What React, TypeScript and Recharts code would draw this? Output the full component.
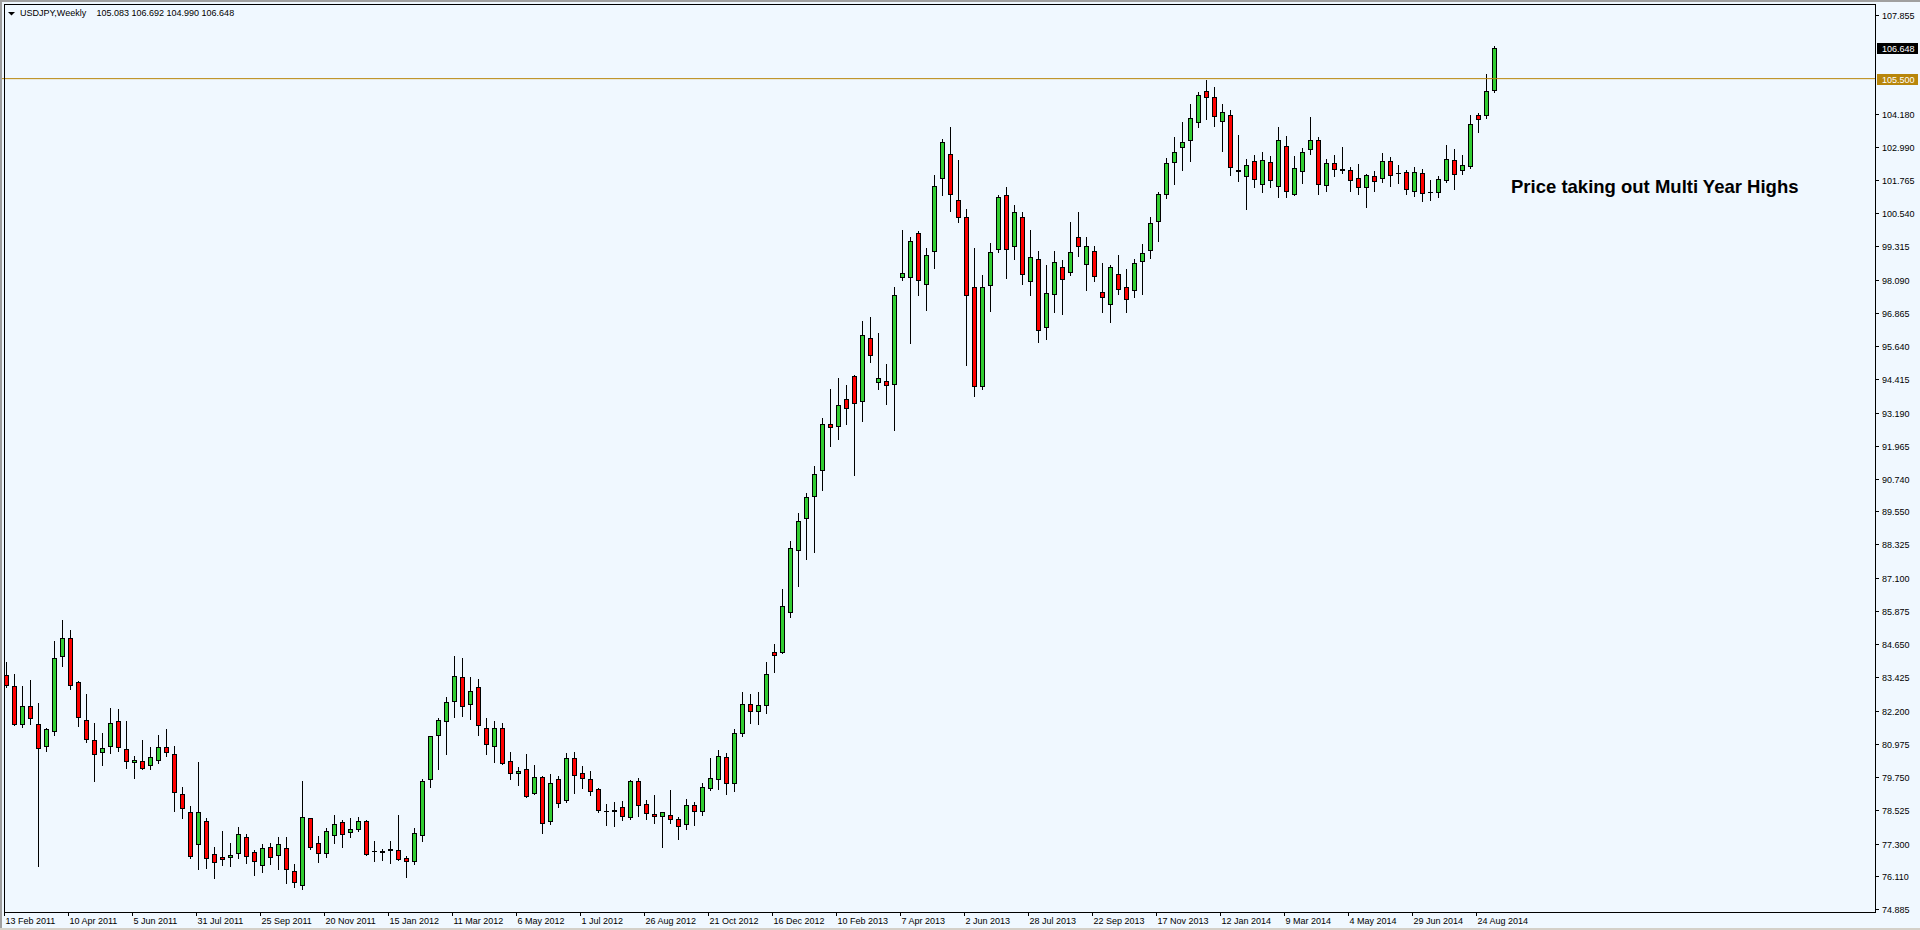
import React from 'react';
import { ComposedChart, Bar, XAxis, YAxis, ReferenceLine } from 'recharts';

// USDJPY weekly, 13 Feb 2011 .. 7 Sep 2014 (one entry per week)
const opens = [
  83.50, 83.09, 81.69, 82.36, 81.69, 80.88, 81.44, 84.20, 84.86, 83.24,
  81.84, 81.10, 80.66, 80.88, 81.80, 80.77, 80.29, 80.33, 80.18, 80.37,
  80.85, 80.59, 79.11, 78.45, 77.27, 78.12, 76.90, 76.79, 76.79, 76.94,
  77.53, 76.97, 76.50, 77.16, 76.86, 77.12, 76.27, 75.76, 78.23, 77.31,
  76.94, 77.60, 78.08, 77.71, 77.82, 78.12, 77.01, 76.97, 77.05, 77.05,
  76.75, 76.64, 77.60, 79.67, 81.29, 81.80, 82.54, 83.43, 82.43, 83.06,
  81.55, 80.88, 81.55, 80.33, 79.89, 80.03, 79.15, 79.74, 78.12, 79.66,
  78.89, 80.44, 79.89, 79.66, 79.30, 78.49, 78.49, 78.63, 78.26, 79.59,
  78.74, 78.38, 78.30, 78.34, 78.19, 78.01, 78.71, 78.49, 79.33, 79.66,
  80.48, 79.52, 81.37, 82.44, 82.20, 82.40, 84.36, 84.37, 85.82, 88.11,
  89.31, 90.10, 91.06, 92.75, 92.71, 93.68, 94.52, 93.60, 95.95, 94.31,
  94.37, 94.26, 98.18, 98.18, 99.80, 97.92, 99.13, 101.82, 102.71, 101.02,
  100.39, 97.81, 94.15, 97.88, 99.21, 101.20, 99.32, 100.39, 98.03, 98.84,
  96.33, 97.55, 98.54, 98.36, 99.65, 98.65, 99.13, 97.62, 97.18, 98.28,
  97.81, 97.69, 98.76, 99.17, 100.24, 101.23, 102.41, 102.97, 103.23, 103.92,
  105.05, 104.84, 103.93, 104.15, 102.12, 101.90, 102.45, 101.60, 102.42, 101.53,
  103.01, 101.24, 102.08, 102.89, 103.23, 101.57, 102.38, 102.16, 102.12, 101.82,
  101.49, 101.90, 101.82, 102.45, 102.01, 102.05, 101.35, 102.01, 101.31, 101.31,
  101.75, 102.49, 102.12, 102.27, 104.15, 104.15, 105.083,
];
const highs = [
  84.00, 83.55, 83.11, 83.33, 82.48, 81.55, 84.77, 85.54, 85.17, 83.29,
  82.81, 81.74, 81.37, 82.30, 82.26, 81.82, 80.53, 81.12, 80.86, 81.30,
  81.52, 80.90, 79.38, 78.68, 80.31, 78.23, 77.17, 77.76, 77.32, 77.91,
  77.64, 77.06, 77.27, 77.32, 77.53, 77.53, 76.53, 79.59, 78.25, 77.56,
  77.86, 78.34, 78.15, 78.23, 78.27, 78.15, 77.38, 77.09, 77.38, 78.34,
  76.83, 77.86, 79.67, 81.28, 81.91, 82.69, 84.20, 84.13, 83.43, 83.35,
  81.91, 81.80, 81.73, 80.67, 80.11, 80.60, 80.18, 79.78, 79.85, 79.78,
  80.62, 80.66, 80.15, 79.99, 79.33, 78.77, 78.82, 78.88, 79.63, 79.70,
  78.89, 79.08, 78.47, 79.26, 78.27, 78.93, 78.82, 79.52, 80.44, 80.73,
  80.62, 81.51, 82.90, 82.81, 82.90, 83.99, 84.65, 86.68, 88.45, 89.49,
  90.23, 91.22, 92.98, 94.06, 94.47, 94.21, 94.56, 96.57, 96.71, 96.12,
  94.97, 97.82, 99.93, 99.65, 99.88, 99.26, 101.93, 103.29, 103.72, 102.50,
  100.69, 99.26, 98.26, 99.44, 101.20, 101.49, 100.83, 100.57, 99.91, 99.13,
  98.62, 99.13, 98.80, 100.20, 100.57, 99.65, 99.32, 98.69, 98.62, 98.99,
  98.47, 98.84, 99.39, 100.39, 101.31, 102.56, 103.34, 103.89, 104.56, 105.00,
  105.44, 105.20, 104.55, 104.35, 103.41, 102.53, 102.67, 102.78, 102.64, 103.71,
  103.37, 102.64, 102.93, 104.07, 103.34, 102.53, 102.67, 102.97, 102.23, 102.34,
  101.97, 102.08, 102.75, 102.60, 102.30, 102.12, 102.23, 102.16, 101.75, 101.90,
  103.04, 102.89, 102.67, 104.16, 104.22, 105.66, 106.692,
];
const lows = [
  83.06, 81.67, 81.61, 81.69, 76.48, 80.72, 81.31, 83.86, 82.98, 81.65,
  81.06, 79.62, 80.21, 80.65, 80.72, 80.10, 79.73, 80.06, 80.06, 80.28,
  80.54, 78.51, 78.25, 76.78, 76.35, 76.38, 76.02, 76.52, 76.48, 76.75,
  76.59, 76.15, 76.26, 76.56, 76.37, 75.86, 75.71, 75.64, 77.11, 76.63,
  76.81, 77.33, 77.18, 77.55, 77.75, 76.89, 76.67, 76.70, 76.59, 76.70,
  76.08, 76.56, 77.40, 79.40, 80.06, 80.61, 81.98, 82.01, 81.88, 81.31,
  80.61, 80.32, 80.24, 79.69, 79.47, 79.03, 79.12, 77.70, 78.03, 78.66,
  78.84, 79.17, 79.36, 79.10, 78.47, 77.99, 77.96, 78.18, 78.22, 78.33,
  78.22, 78.07, 77.18, 78.07, 77.48, 77.85, 77.99, 78.36, 79.26, 79.32,
  79.14, 79.25, 81.26, 81.75, 81.70, 82.10, 83.64, 84.33, 85.66, 86.80,
  87.80, 88.06, 90.35, 91.97, 92.23, 92.78, 90.89, 92.89, 95.07, 94.07,
  93.51, 92.56, 98.07, 95.76, 97.54, 96.98, 98.53, 101.22, 100.63, 100.20,
  94.96, 93.79, 94.06, 96.95, 99.12, 98.16, 98.86, 97.94, 97.54, 95.78,
  95.91, 96.88, 96.81, 98.25, 98.97, 97.72, 98.05, 96.91, 96.54, 97.55,
  96.91, 97.44, 97.57, 98.90, 99.53, 101.09, 101.60, 102.12, 102.45, 103.73,
  104.02, 103.76, 102.82, 101.96, 101.74, 100.71, 101.52, 101.33, 101.52, 101.15,
  101.15, 101.22, 101.66, 102.73, 101.26, 101.37, 101.92, 102.01, 101.37, 101.26,
  100.78, 101.37, 101.70, 101.56, 101.67, 101.26, 101.19, 101.00, 101.04, 101.15,
  101.70, 101.44, 101.97, 102.19, 103.52, 104.04, 104.990,
];
const closes = [
  83.13, 81.69, 82.36, 81.93, 80.81, 81.51, 84.13, 84.86, 83.13, 81.95,
  81.14, 80.59, 80.81, 81.73, 80.85, 80.33, 80.37, 80.07, 80.48, 80.85,
  80.66, 79.19, 78.60, 76.83, 78.45, 76.75, 76.61, 76.72, 76.86, 77.64,
  76.83, 76.64, 77.12, 76.79, 77.27, 76.35, 75.87, 78.27, 77.16, 76.94,
  77.75, 78.01, 77.64, 77.82, 78.12, 76.93, 77.01, 77.01, 77.09, 76.72,
  76.64, 77.68, 79.59, 81.25, 81.84, 82.50, 83.46, 82.36, 82.91, 81.66,
  80.96, 81.55, 80.28, 79.89, 79.96, 79.06, 79.74, 78.04, 79.52, 78.78,
  80.44, 79.81, 79.70, 79.22, 78.52, 78.49, 78.52, 78.30, 79.59, 78.71,
  78.41, 78.30, 78.45, 78.19, 77.93, 78.71, 78.49, 79.37, 79.70, 80.51,
  79.52, 81.36, 82.44, 82.20, 82.40, 83.54, 84.26, 86.04, 88.18, 89.18,
  90.06, 90.91, 92.75, 92.67, 93.46, 93.34, 93.53, 96.04, 95.30, 94.48,
  94.20, 97.51, 98.32, 99.50, 98.06, 98.98, 101.56, 103.16, 101.23, 100.39,
  97.51, 94.15, 97.81, 99.10, 101.12, 99.21, 100.57, 98.28, 98.91, 96.22,
  97.58, 98.73, 98.10, 99.10, 99.32, 99.32, 98.21, 97.44, 98.54, 97.73,
  97.36, 98.69, 99.06, 100.17, 101.23, 102.38, 102.78, 103.15, 104.04, 104.90,
  104.84, 104.11, 104.26, 102.23, 102.08, 102.30, 101.79, 102.49, 101.75, 103.23,
  101.35, 102.19, 102.78, 103.23, 101.60, 102.38, 102.16, 102.12, 101.75, 101.49,
  101.93, 101.71, 102.45, 101.94, 102.01, 101.42, 102.05, 101.27, 101.33, 101.79,
  102.53, 101.97, 102.30, 103.82, 104.00, 105.03, 106.648,
];

// date axis: a label every 8 weeks
const dateTickWeeks = [0, 8, 16, 24, 32, 40, 48, 56, 64, 72, 80, 88, 96, 104, 112, 120, 128, 136, 144, 152, 160, 168, 176, 184];
const dateTickLabels = [
  '13 Feb 2011', '10 Apr 2011', '5 Jun 2011', '31 Jul 2011', '25 Sep 2011', '20 Nov 2011',
  '15 Jan 2012', '11 Mar 2012', '6 May 2012', '1 Jul 2012', '26 Aug 2012', '21 Oct 2012',
  '16 Dec 2012', '10 Feb 2013', '7 Apr 2013', '2 Jun 2013', '28 Jul 2013', '22 Sep 2013',
  '17 Nov 2013', '12 Jan 2014', '9 Mar 2014', '4 May 2014', '29 Jun 2014', '24 Aug 2014',
];

const priceTicks = [
  107.855, 106.648, 105.5, 104.18, 102.99, 101.765, 100.54, 99.315, 98.09, 96.865, 95.64,
  94.415, 93.19, 91.965, 90.74, 89.55, 88.325, 87.1, 85.875, 84.65, 83.425, 82.2,
  80.975, 79.75, 78.525, 77.3, 76.11, 74.885,
];
const lastPrice = 106.648;
const levelPrice = 105.5;

const BG = '#F0F8FF';
const BULL = '#32CD32';
const BEAR = '#FF0000';
const LEVEL = '#B8860B';
const FONT = '"Liberation Sans", Arial, sans-serif';
const FS = 9;

const data = opens.map((o, i) => ({
  week: i,
  open: o,
  high: highs[i],
  low: lows[i],
  close: closes[i],
}));

const Candle = (props: any) => {
  const { x, y, width, height, payload } = props;
  if (!payload) return null;
  const { open, high, low, close } = payload;
  const cx = Math.floor(x + width / 2) + 0.5;
  const span = high - low;
  const py = (v: number) => (span === 0 ? y : y + ((high - v) / span) * height);
  const yHigh = Math.round(y);
  const yLow = Math.round(y + height);
  const top = Math.round(py(Math.max(open, close))) + 0.5;
  const bot = Math.round(py(Math.min(open, close))) + 0.5;
  const wick = <line x1={cx} x2={cx} y1={yHigh} y2={yLow + 1} stroke="#000" strokeWidth={1} />;
  if (open === close || bot - top < 1) {
    return (
      <g>
        {wick}
        <line x1={cx - 2.5} x2={cx + 2.5} y1={top} y2={top} stroke="#000" strokeWidth={1} />
      </g>
    );
  }
  return (
    <g>
      {wick}
      <rect x={cx - 2} y={top} width={4} height={bot - top} fill={close > open ? BULL : BEAR} stroke="#000" strokeWidth={1} />
    </g>
  );
};

const DateTick = (props: any) => {
  const { x, y, payload } = props;
  const k = dateTickWeeks.indexOf(payload.value);
  const tx = Math.floor(x) - 0.5;
  return (
    <g>
      <line x1={tx} x2={tx} y1={y} y2={y + 4} stroke="#000" />
      <text x={tx + 1} y={y + 11.5} fontSize={FS} fontFamily={FONT} fill="#000" textAnchor="start">
        {dateTickLabels[k]}
      </text>
    </g>
  );
};

const PriceTick = (props: any) => {
  const { x, y, payload } = props;
  const v = payload.value as number;
  const yy = Math.round(y);
  const boxFill = v === lastPrice ? '#000' : v === levelPrice ? LEVEL : null;
  return (
    <g>
      {boxFill ? (
        <rect x={x + 2} y={yy - 5} width={41} height={11} fill={boxFill} />
      ) : (
        <line x1={x} x2={x + 4} y1={yy + 0.5} y2={yy + 0.5} stroke="#000" />
      )}
      <text x={x + 7} y={yy + 4} fontSize={FS} fontFamily={FONT} fill={boxFill ? '#fff' : '#000'} textAnchor="start">
        {v.toFixed(3)}
      </text>
    </g>
  );
};

export default function App() {
  return (
    <div style={{ position: 'absolute', left: 0, top: 0, width: 1920, height: 930, background: BG, overflow: 'hidden' }}>
      <ComposedChart
        width={1920}
        height={930}
        data={data}
        margin={{ top: 4, right: 0, bottom: 0, left: 1.5 }}
      >
        <XAxis
          dataKey="week"
          type="category"
          ticks={dateTickWeeks}
          interval={0}
          tick={<DateTick />}
          tickLine={false}
          axisLine={false}
          tickSize={0}
          tickMargin={0}
          height={18}
          padding={{ left: 0, right: 377.5 }}
        />
        <YAxis
          orientation="right"
          type="number"
          domain={[74.7746, 108.2525]}
          allowDataOverflow
          ticks={priceTicks}
          interval={0}
          tick={<PriceTick />}
          tickLine={false}
          axisLine={false}
          tickSize={0}
          tickMargin={0}
          width={45}
        />
        <ReferenceLine y={levelPrice} stroke={LEVEL} strokeWidth={1} ifOverflow="hidden" />
        <Bar
          dataKey={(d: any) => [d.low, d.high]}
          barSize={5}
          shape={(p: any) => <Candle {...p} />}
          isAnimationActive={false}
        />
      </ComposedChart>
      <svg width={1920} height={930} style={{ position: 'absolute', left: 0, top: 0, pointerEvents: 'none' }}>
        <rect x={0} y={0} width={2} height={930} fill="#A0A0A0" />
        <rect x={0} y={0} width={1920} height={2} fill="#A0A0A0" />
        <rect x={0} y={928} width={1920} height={2} fill="#D4D0C8" />
        <rect x={4.5} y={4.5} width={1871} height={908} fill="none" stroke="#000" strokeWidth={1} />
        <polygon points="8,12 15,12 11.5,15.5" fill="#000" />
        <text x={20} y={16} fontSize={FS} fontFamily={FONT} fill="#000">USDJPY,Weekly</text>
        <text x={96.5} y={16} fontSize={FS} fontFamily={FONT} fill="#000">105.083 106.692 104.990 106.648</text>
        <text x={1511} y={193} fontSize={18.5} fontWeight="bold" fontFamily={FONT} fill="#000">
          Price taking out Multi Year Highs
        </text>
      </svg>
    </div>
  );
}
